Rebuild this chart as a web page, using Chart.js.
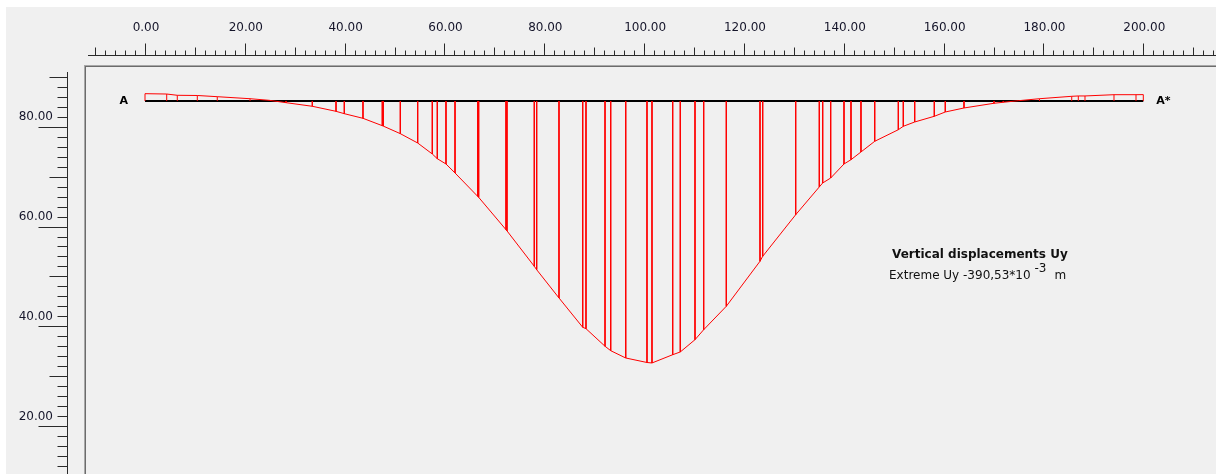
<!DOCTYPE html>
<html>
<head>
<meta charset="utf-8">
<script src="https://cdn.jsdelivr.net/npm/chart.js@4/dist/chart.umd.min.js"></script>
<style>
  html, body { margin: 0; padding: 0; background: #ffffff; }
  #wrap { width: 1216px; height: 474px; position: relative; }
  canvas { display: block; }
</style>
</head>
<body>
<div id="wrap"><canvas id="uy" width="1216" height="474"></canvas></div>
<script>
// Cross-section A–A*: node positions along the section (m)
const nodeX = [0.00, 4.35, 6.47, 10.48, 14.48, 21.04, 24.90, 28.25, 33.52, 38.27, 39.93, 43.67,
  47.54, 47.74, 51.15, 54.63, 57.56, 58.56, 60.30, 62.11, 66.65, 66.85, 72.32, 72.52, 77.99,
  78.47, 82.94, 87.69, 88.35, 92.16, 93.30, 96.31, 100.57, 101.57, 105.72, 107.24, 110.19,
  111.93, 116.46, 123.21, 123.75, 130.36, 135.09, 135.77, 137.37, 140.04, 141.44, 143.44,
  146.19, 150.92, 151.92, 154.20, 158.13, 160.33, 164.08, 170.09, 171.95, 174.96, 179.20,
  185.66, 186.98, 188.32, 194.13, 198.54, 200.00];

// Vertical displacement Uy at each node (10^-3 m)
const nodeUy = [10.9, 10.4, 8.5, 8.2, 6.4, 3.4, 1.0, -2.5, -7.9, -15.4, -18.9, -25.8,
  -36.8, -37.4, -48.7, -62.6, -79.0, -86.0, -93.9, -107.3, -142.1, -143.6, -191.8, -193.6, -246.4,
  -251.5, -293.6, -337.3, -339.4, -365.6, -372.2, -383.1, -389.8, -390.53, -378.2, -374.1, -355.8,
  -340.9, -306.0, -238.9, -231.5, -169.5, -128.1, -122.2, -114.8, -93.9, -87.5, -76.0,
  -60.1, -42.8, -37.7, -31.3, -22.8, -16.4, -10.4, -3.4, -1.9, 0.4, 3.4,
  7.0, 7.5, 7.5, 9.4, 9.4, 9.5];

// Section line elevation and end labels
const sectionY = 85.15;
const sectionStart = 0;
const sectionEnd = 200;
const sectionLabels = ['A', 'A*'];

// Ruler labels
const xTickValues = [0, 20, 40, 60, 80, 100, 120, 140, 160, 180, 200];
const xTickLabels = ['0.00', '20.00', '40.00', '60.00', '80.00', '100.00', '120.00', '140.00', '160.00', '180.00', '200.00'];
const yTickValues = [20, 40, 60, 80];
const yTickLabels = ['20.00', '40.00', '60.00', '80.00'];

// Legend text
const titleText = 'Vertical displacements Uy';
const extremeText = 'Extreme Uy -390,53*10';
const extremeExp = '-3';
const extremeUnit = 'm';

// Drawing scale of displacements (plot units per 10^-3 m)
const dispScale = 0.1344;

const deformed = nodeX.map((x, i) => ({ x: x, y: sectionY + nodeUy[i] * dispScale }));
const hatch = [];
nodeX.forEach((x, i) => {
  hatch.push({ x: x, y: sectionY });
  hatch.push({ x: x, y: sectionY + nodeUy[i] * dispScale });
  hatch.push({ x: x, y: null });
});

const FONT = '"DejaVu Sans", Tahoma, sans-serif';

const rulers = {
  id: 'rulers',
  beforeDraw(chart) {
    const ctx = chart.ctx;
    const W = chart.width, H = chart.height;
    ctx.save();
    ctx.fillStyle = '#f0f0f0';
    ctx.fillRect(6, 7, W - 6, H - 7);
    ctx.restore();
  },
  afterDraw(chart) {
    const ctx = chart.ctx;
    const xs = chart.scales.x, ys = chart.scales.y;
    const W = chart.width, H = chart.height;
    ctx.save();

    // frame of the drawing area
    const ca = chart.chartArea;
    ctx.lineWidth = 1;
    ctx.strokeStyle = '#a8a8a8';
    ctx.strokeRect(ca.left - 0.5, ca.top - 0.5, W + 10, H + 10);
    ctx.strokeStyle = '#6c6c6c';
    ctx.strokeRect(ca.left + 0.5, ca.top + 0.5, W + 10, H + 10);

    // top ruler
    const rulerY = 55.5;
    ctx.strokeStyle = '#2a2a2a';
    ctx.beginPath();
    ctx.moveTo(88, rulerY);
    ctx.lineTo(W, rulerY);
    for (let v = -12; v <= 216; v += 2) {
      const px = Math.round(xs.getPixelForValue(v)) + 0.5;
      if (px < 88 || px > W) continue;
      const len = v % 20 === 0 ? 12 : (v % 10 === 0 ? 8 : 5);
      ctx.moveTo(px, rulerY);
      ctx.lineTo(px, rulerY - len);
    }
    ctx.stroke();

    ctx.fillStyle = '#15152a';
    ctx.font = '12px ' + FONT;
    ctx.textAlign = 'center';
    ctx.textBaseline = 'middle';
    xTickValues.forEach((v, i) => {
      ctx.fillText(xTickLabels[i], xs.getPixelForValue(v) + 1, 28);
    });

    // left ruler
    const rulerX = 67.5;
    ctx.beginPath();
    ctx.moveTo(rulerX, 72);
    ctx.lineTo(rulerX, H);
    for (let v = 90; v >= 8; v -= 2) {
      const py = Math.round(ys.getPixelForValue(v)) + 0.5;
      if (py < 72 || py > H) continue;
      const len = v % 20 === 0 ? 29 : (v % 10 === 0 ? 18 : 10);
      ctx.moveTo(rulerX, py);
      ctx.lineTo(rulerX - len, py);
    }
    ctx.stroke();

    ctx.textAlign = 'right';
    yTickValues.forEach((v, i) => {
      ctx.fillText(yTickLabels[i], 53, ys.getPixelForValue(v) - 9.5);
    });

    // section end labels
    const sy = ys.getPixelForValue(sectionY);
    ctx.fillStyle = '#000000';
    ctx.font = 'bold 11px ' + FONT;
    ctx.textAlign = 'right';
    ctx.fillText(sectionLabels[0], xs.getPixelForValue(sectionStart) - 17, sy + 0.5);
    ctx.textAlign = 'left';
    ctx.fillText(sectionLabels[1], xs.getPixelForValue(sectionEnd) + 13, sy + 0.5);

    // legend
    ctx.fillStyle = '#111111';
    ctx.font = 'bold 12px ' + FONT;
    ctx.textAlign = 'left';
    ctx.fillText(titleText, 892, 255);
    ctx.font = '12px ' + FONT;
    ctx.fillText(extremeText, 889, 276);
    let x = 889 + ctx.measureText(extremeText + ' ').width;
    ctx.fillText(extremeExp, x, 269);
    x += ctx.measureText(extremeExp).width + 8;
    ctx.fillText(extremeUnit, x, 276);

    ctx.restore();
  }
};

// scale mapping: 4.9915 px per metre, x = 0 at px 145, y = 80 at px 126.7
const PPM = 4.9915;
const padLeft = 85, padTop = 66;
const W = 1216, H = 474;
const xMin = -(145 - padLeft) / PPM;
const xMax = xMin + (W - padLeft) / PPM;
const yMax = 80 + (126.7 - padTop) / PPM;
const yMin = yMax - (H - padTop) / PPM;

new Chart(document.getElementById('uy'), {
  type: 'line',
  data: {
    datasets: [
      {
        label: 'deformed',
        data: deformed,
        borderColor: '#ff0000',
        borderWidth: 1,
        pointRadius: 0,
        tension: 0,
        fill: false
      },
      {
        label: 'hatch',
        data: hatch,
        borderColor: '#ff0000',
        borderWidth: 1,
        pointRadius: 0,
        spanGaps: false,
        fill: false
      },
      {
        label: 'section',
        data: [{ x: sectionStart, y: sectionY }, { x: sectionEnd, y: sectionY }],
        borderColor: '#000000',
        borderWidth: 2,
        pointRadius: 0,
        fill: false
      }
    ]
  },
  options: {
    responsive: false,
    animation: false,
    devicePixelRatio: 1,
    layout: { padding: { left: padLeft, top: padTop, right: 0, bottom: 0 } },
    plugins: { legend: { display: false }, tooltip: { enabled: false } },
    events: [],
    scales: {
      x: { type: 'linear', display: false, min: xMin, max: xMax },
      y: { type: 'linear', display: false, min: yMin, max: yMax }
    }
  },
  plugins: [rulers]
});
</script>
</body>
</html>
